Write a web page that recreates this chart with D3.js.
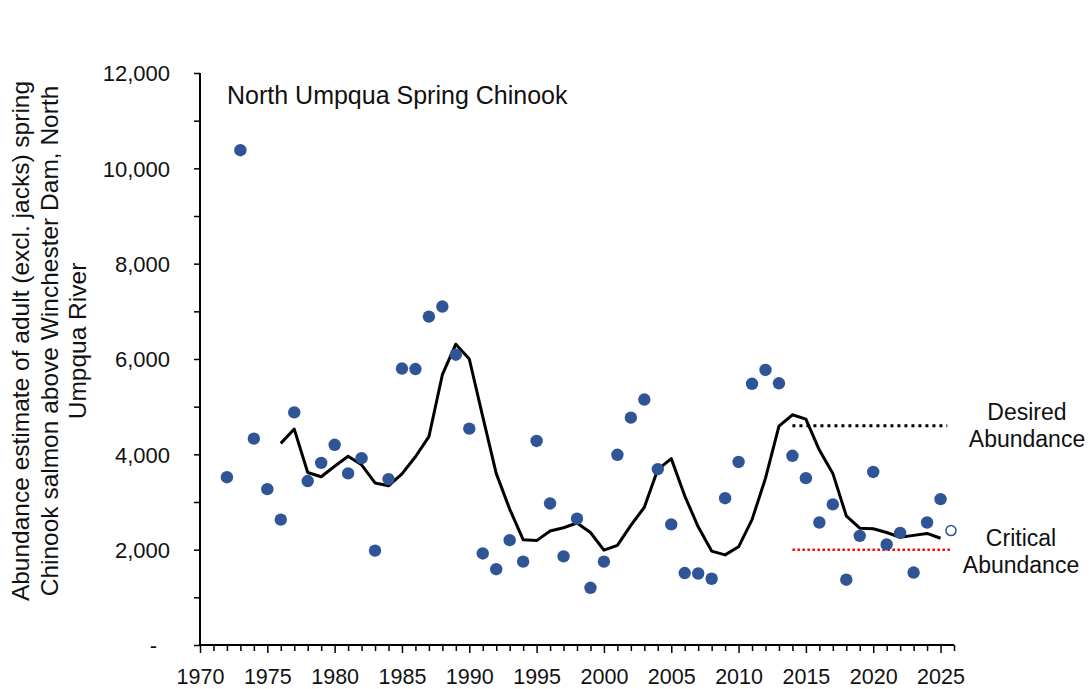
<!DOCTYPE html>
<html>
<head>
<meta charset="utf-8">
<script src="https://cdn.jsdelivr.net/npm/d3@7"></script>
<style>
  body { margin: 0; background: #fff; }
  text { font-family: "Liberation Sans", Arial, sans-serif; fill: #111; }
</style>
</head>
<body>
<div id="chart"></div>
<script>
// Annual counts (dots)
const years = [1972, 1973, 1974, 1975, 1976, 1977, 1978, 1979, 1980, 1981, 1982, 1983, 1984, 1985, 1986, 1987, 1988, 1989,
  1990, 1991, 1992, 1993, 1994, 1995, 1996, 1997, 1998, 1999, 2000, 2001, 2002, 2003, 2004, 2005, 2006, 2007, 2008, 2009,
  2010, 2011, 2012, 2013, 2014, 2015, 2016, 2017, 2018, 2019, 2020, 2021, 2022, 2023, 2024, 2025];
const counts = [3520, 10380, 4330, 3270, 2630, 4880, 3440, 3820, 4200, 3600, 3920, 1980, 3480, 5800, 5790, 6890, 7100, 6090,
  4540, 1920, 1590, 2200, 1750, 4280, 2970, 1860, 2650, 1200, 1750, 3990, 4770, 5150, 3690, 2530, 1510, 1500, 1390, 3080,
  3840, 5480, 5770, 5490, 3970, 3500, 2570, 2950, 1370, 2290, 3630, 2110, 2350, 1520, 2570, 3060];

// Preliminary estimate (open circle)
const prelimYear = [2026];
const prelimCount = [2400];

// Running average (line)
const avgYears = [1976, 1977, 1978, 1979, 1980, 1981, 1982, 1983, 1984, 1985, 1986, 1987, 1988, 1989, 1990, 1991, 1992,
  1993, 1994, 1995, 1996, 1997, 1998, 1999, 2000, 2001, 2002, 2003, 2004, 2005, 2006, 2007, 2008, 2009, 2010, 2011, 2012,
  2013, 2014, 2015, 2016, 2017, 2018, 2019, 2020, 2021, 2022, 2023, 2024, 2025];
const avgCounts = [4230, 4530, 3620, 3530, 3750, 3960, 3780, 3400, 3340, 3590, 3950, 4370, 5670, 6310, 6000, 4790, 3600,
  2850, 2210, 2190, 2390, 2460, 2560, 2360, 1990, 2090, 2510, 2890, 3680, 3910, 3130, 2480, 1970, 1890, 2060, 2630, 3500,
  4590, 4830, 4740, 4090, 3600, 2710, 2450, 2440, 2360, 2260, 2300, 2340, 2240];

// Reference levels
const desired = { label: ["Desired", "Abundance"], value: 4600, from: 2014, to: 2025.5 };
const critical = { label: ["Critical", "Abundance"], value: 2000, from: 2014, to: 2025.8 };

const yTicks = [0, 2000, 4000, 6000, 8000, 10000, 12000];
const xTicks = [1970, 1975, 1980, 1985, 1990, 1995, 2000, 2005, 2010, 2015, 2020, 2025];
const yLabel = ["Abundance estimate of adult (excl. jacks) spring", "Chinook salmon above Winchester Dam, North", "Umpqua River"];
const title = "North Umpqua Spring Chinook";

/************************************
 * Draw
 ************************************/
const w = 1090, h = 689;
const padLeft = 200, padRight = 954, padTop = 73, padBottom = 645;

const xScale = d3.scaleLinear().domain([1970, 2026]).range([padLeft, padRight]);
const yScale = d3.scaleLinear().domain([0, 12000]).range([padBottom, padTop]);

const svg = d3.select("#chart").append("svg")
  .attr("width", w).attr("height", h);

// y axis
const yAxis = d3.axisLeft(yScale).tickValues(d3.range(0, 12001, 1000))
  .tickSize(6)
  .tickFormat(d => yTicks.includes(d) ? (d === 0 ? "-" : d3.format(",")(d)) : "");
const gy = svg.append("g").attr("transform", "translate(" + padLeft + ",0)").call(yAxis);
gy.select(".domain").attr("stroke-width", 2).attr("d", "M0," + padTop + "V" + padBottom);
gy.selectAll(".tick line").attr("stroke-width", 1.5);
gy.selectAll(".tick text")
  .attr("x", d => d === 0 ? -43 : -30)
  .style("font-size", "22px").attr("dy", "0.35em");

// x axis
const xAxis = d3.axisBottom(xScale).tickValues(d3.range(1970, 2027, 1))
  .tickSize(6)
  .tickFormat(d => xTicks.includes(d) ? d : "");
const gx = svg.append("g").attr("transform", "translate(0," + padBottom + ")").call(xAxis);
gx.select(".domain").attr("stroke-width", 2).attr("d", "M" + padLeft + ",0H" + padRight);
gx.selectAll(".tick line").attr("stroke-width", 1.5)
  .attr("y2", d => xTicks.includes(d) ? 8 : 6);
gx.selectAll(".tick text").attr("y", 39).attr("dy", 0).style("font-size", "21.5px");

// reference lines
svg.append("line")
  .attr("x1", xScale(desired.from)).attr("x2", xScale(desired.to))
  .attr("y1", yScale(desired.value)).attr("y2", yScale(desired.value))
  .attr("stroke", "#000").attr("stroke-width", 3).attr("stroke-dasharray", "3,4");
svg.append("line")
  .attr("x1", xScale(critical.from)).attr("x2", xScale(critical.to))
  .attr("y1", yScale(critical.value)).attr("y2", yScale(critical.value))
  .attr("stroke", "#ff0000").attr("stroke-width", 2.5).attr("stroke-dasharray", "2.5,2.5");

// running average
const line = d3.line().x(d => xScale(d[0])).y(d => yScale(d[1]));
svg.append("path")
  .datum(avgYears.map((y, i) => [y, avgCounts[i]]))
  .attr("d", line)
  .attr("fill", "none").attr("stroke", "#000").attr("stroke-width", 3)
  .attr("stroke-linejoin", "round");

// dots
svg.selectAll("circle.obs")
  .data(years.map((y, i) => [y, counts[i]]))
  .enter().append("circle")
  .attr("class", "obs")
  .attr("cx", d => xScale(d[0]))
  .attr("cy", d => yScale(d[1]))
  .attr("r", 6.2)
  .attr("fill", "#2f5597");

svg.selectAll("circle.prelim")
  .data(prelimYear.map((y, i) => [y, prelimCount[i]]))
  .enter().append("circle")
  .attr("class", "prelim")
  .attr("cx", d => xScale(d[0]) - 3)
  .attr("cy", d => yScale(d[1]))
  .attr("r", 5)
  .attr("fill", "#fff").attr("stroke", "#2f5597").attr("stroke-width", 1.5);

// labels for reference levels
[desired, critical].forEach((ref, k) => {
  const cx = k === 0 ? 1027 : 1021;
  const t = svg.append("text")
    .attr("x", cx)
    .attr("y", k === 0 ? 420 : 546)
    .attr("text-anchor", "middle")
    .style("font-size", "23px");
  ref.label.forEach((s, i) => t.append("tspan").attr("x", cx).attr("dy", i ? 27 : 0).text(s));
});

// title
svg.append("text").attr("x", 227).attr("y", 104).style("font-size", "25px").text(title);

// y label
const yl = svg.append("text")
  .attr("transform", "translate(29,341) rotate(-90)")
  .attr("text-anchor", "middle")
  .style("font-size", "24.5px");
yLabel.forEach((s, i) => yl.append("tspan").attr("x", 0).attr("dy", i ? 28.5 : 0).text(s));
</script>
</body>
</html>
